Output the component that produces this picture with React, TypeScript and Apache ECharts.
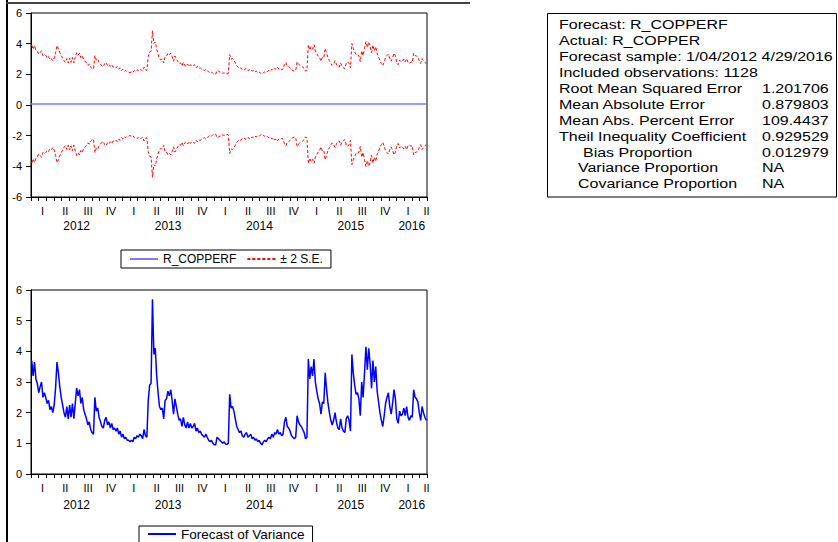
import React, { useEffect, useRef } from 'react';
import * as echarts from 'echarts';

// Sample layout: 1128 daily observations, variance read every 4th observation
const N_OBS = 1128;
const STEP = 4;
const X_START = 2012;
const X_END = 2016 + 4 / 12;
const FORECAST_MEAN = 0.06;

const VARIANCE = [
  3.7, 3.2, 3.65, 3.1, 2.95,
  2.65, 2.85, 3.0, 2.5, 2.65,
  2.5, 2.3, 2.4, 2.1, 2.2,
  2.0, 2.25, 2.8, 3.65, 3.3,
  2.85, 2.5, 2.25, 2.0, 1.85,
  2.2, 1.8, 2.25, 1.85, 2.3,
  1.8, 2.3, 2.8, 2.55, 2.75,
  2.3, 2.5, 2.1, 1.95, 1.8,
  1.6, 1.7, 1.45, 1.35, 1.3,
  2.5, 2.05, 2.15, 1.85, 1.7,
  1.55, 1.5, 1.75, 1.85, 1.6,
  1.7, 1.5, 1.65, 1.45, 1.5,
  1.4, 1.5, 1.3, 1.4, 1.2,
  1.3, 1.15, 1.2, 1.1, 1.1,
  1.05, 1.1, 1.05, 1.2, 1.15,
  1.25, 1.2, 1.3, 1.25, 1.15,
  1.45, 1.25, 1.2, 2.4, 2.9,
  2.95, 5.7, 3.9, 4.1, 3.2,
  2.65, 2.2, 2.1, 2.15, 1.8,
  2.4, 2.45, 2.7, 2.55, 2.75,
  2.4, 1.95, 2.45, 2.2, 1.95,
  1.75, 1.8, 1.55, 1.85, 1.6,
  1.5, 1.7, 1.5, 1.65, 1.5,
  1.55, 1.65, 1.4, 1.5, 1.35,
  1.4, 1.3, 1.25, 1.2, 1.3,
  1.2, 1.1, 1.05, 1.1, 1.0,
  0.95, 0.95, 1.2, 1.15, 1.1,
  1.05, 1.0, 1.05, 0.98, 0.97,
  1.0, 2.6, 2.15, 2.2, 2.05,
  1.8, 1.55, 1.45, 1.35, 1.4,
  1.25, 1.2, 1.3, 1.35, 1.2,
  1.25, 1.3, 1.15, 1.2, 1.1,
  1.15, 1.05, 1.1, 1.0, 0.95,
  1.05, 1.1, 1.05, 1.15, 1.2,
  1.15, 1.3, 1.2, 1.35, 1.3,
  1.45, 1.3, 1.35, 1.25, 1.3,
  1.7, 1.85, 1.55, 1.5, 1.4,
  1.25, 1.2, 1.15, 1.2, 1.9,
  1.7, 1.6, 1.55, 1.45, 1.35,
  1.15, 1.2, 3.75, 3.1, 3.5,
  3.2, 3.75, 3.0, 2.7, 2.45,
  2.3, 1.95, 2.35, 2.3, 3.3,
  2.75, 2.3, 2.0, 1.75, 1.6,
  1.75, 2.0, 1.7, 1.5, 1.45,
  1.8, 1.5, 1.4, 1.35, 1.8,
  1.9, 1.75, 1.4, 3.9, 3.3,
  2.9, 2.6, 2.65, 2.45, 1.9,
  3.0, 2.5, 3.3, 4.15, 3.4,
  4.1, 3.6, 2.8, 3.7, 3.0,
  3.5, 2.7, 2.35, 2.0, 1.75,
  1.55, 1.9, 2.3, 2.5, 2.65,
  2.2, 1.95, 2.3, 2.75, 2.45,
  1.8, 1.65, 2.05, 1.9, 1.95,
  2.15, 1.9, 2.2, 1.85, 1.75,
  1.9, 1.85, 2.75, 2.5, 2.45,
  2.35, 2.0, 1.75, 2.2, 2.0,
  1.85, 1.75,
];

const QUARTER_LABELS = ['I', 'II', 'III', 'IV'];
const YEARS = [2012, 2013, 2014, 2015, 2016];

const STATS_LABELS = [
  'Forecast: R_COPPERF',
  'Actual: R_COPPER',
  'Forecast sample: 1/04/2012 4/29/2016',
  'Included observations: 1128',
  'Root Mean Squared Error',
  'Mean Absolute Error',
  'Mean Abs. Percent Error',
  'Theil Inequality Coefficient',
  'Bias Proportion',
  'Variance Proportion',
  'Covariance Proportion',
];
// left inset of each row, in px
const STATS_INDENT = [0, 0, 0, 0, 0, 0, 0, 0, 24, 19, 19];
const STATS_VALUES = [
  '', '', '', '',
  '1.201706',
  '0.879803',
  '109.4437',
  '0.929529',
  '0.012979',
  'NA',
  'NA',
];

const FONT = '"Liberation Sans", Arial, Helvetica, sans-serif';

function obsX(i: number): number {
  return X_START + ((i * STEP + STEP / 2) / N_OBS) * (X_END - X_START);
}

const monthTicks: number[] = [];
for (let k = 0; k <= 52; k++) monthTicks.push(X_START + k / 12);
const quarterCenters: number[] = [];
for (let q = 0; q < 18; q++) quarterCenters.push(Math.min(X_START + (q + 0.5) / 4, X_END - 0.006));
const yearCenters = YEARS.map((y) => (y + Math.min(y + 1, X_END)) / 2);

function timeAxes(gridIndex: number, yearMargin: number) {
  const base = {
    type: 'value',
    gridIndex,
    min: X_START,
    max: X_END,
    position: 'bottom',
    splitLine: { show: false },
  };
  return [
    {
      ...base,
      axisLine: { show: true, onZero: false, lineStyle: { color: '#000', width: 1 } },
      axisTick: {
        show: true,
        inside: false,
        length: 4,
        customValues: monthTicks,
        lineStyle: { color: '#000' },
      },
      axisLabel: {
        show: true,
        customValues: quarterCenters,
        margin: 8,
        fontFamily: FONT,
        fontSize: 11,
        color: '#000',
        formatter: (v: number) => QUARTER_LABELS[Math.floor((v - X_START) * 4 + 1e-6) % 4],
      },
    },
    {
      ...base,
      axisLine: { show: false, onZero: false },
      axisTick: { show: false },
      axisLabel: {
        show: true,
        customValues: yearCenters,
        margin: yearMargin,
        fontFamily: FONT,
        fontSize: 12,
        color: '#000',
        formatter: (v: number) => String(Math.floor(v)),
      },
    },
  ];
}

function valueAxis(gridIndex: number, min: number, max: number, interval: number) {
  return {
    type: 'value',
    gridIndex,
    min,
    max,
    interval,
    splitLine: { show: false },
    axisLine: { show: true, onZero: false, lineStyle: { color: '#000' } },
    axisTick: { show: true, length: 5, lineStyle: { color: '#000' } },
    axisLabel: { margin: 9, fontFamily: FONT, fontSize: 11, color: '#000' },
  };
}

export default function App() {
  const ref = useRef<HTMLDivElement>(null);

  useEffect(() => {
    document.body.style.margin = '0';
    if (!ref.current) return;
    const chart = echarts.init(ref.current, undefined, { renderer: 'svg' });

    const variancePts = VARIANCE.map((v, i) => [obsX(i), v]);
    const upperPts = VARIANCE.map((v, i) => [obsX(i), FORECAST_MEAN + 2 * Math.sqrt(v)]);
    const lowerPts = VARIANCE.map((v, i) => [obsX(i), FORECAST_MEAN - 2 * Math.sqrt(v)]);
    const forecastPts = [
      [X_START, FORECAST_MEAN],
      [X_END, FORECAST_MEAN],
    ];

    // statistics table: slightly widened text, as in the EViews output
    const rowY = (k: number) => 25 + 15.9 * k;
    const textStyle = { fontFamily: FONT, fontSize: 12.5, fill: '#000', verticalAlign: 'middle' };
    const statTexts: any[] = [];
    STATS_LABELS.forEach((t, k) => {
      statTexts.push({
        type: 'text',
        x: 559 + STATS_INDENT[k],
        y: rowY(k),
        scaleX: 1.28,
        style: { ...textStyle, text: t },
      });
      if (STATS_VALUES[k]) {
        statTexts.push({
          type: 'text',
          x: 762,
          y: rowY(k),
          scaleX: 1.28,
          style: { ...textStyle, text: STATS_VALUES[k] },
        });
      }
    });

    const legendCommon = {
      orient: 'horizontal',
      borderColor: '#000',
      borderWidth: 1,
      borderRadius: 0,
      padding: [3, 8, 3, 8],
      itemWidth: 28,
      itemHeight: 10,
      itemGap: 10,
      selectedMode: false,
      itemStyle: { opacity: 0 },
      textStyle: { fontFamily: FONT, fontSize: 12, color: '#000' },
    };

    chart.setOption({
      animation: false,
      backgroundColor: '#fff',
      grid: [
        { left: 31, top: 13, width: 396, height: 184, show: true, borderColor: '#000', borderWidth: 1 },
        { left: 31, top: 290, width: 396, height: 184, show: true, borderColor: '#000', borderWidth: 1 },
      ],
      xAxis: [...timeAxes(0, 23), ...timeAxes(1, 25)],
      yAxis: [valueAxis(0, -6, 6, 2), valueAxis(1, 0, 6, 1)],
      legend: [
        { ...legendCommon, left: 121, top: 250, data: ['R_COPPERF', '± 2 S.E.'] },
        {
          ...legendCommon,
          left: 139,
          top: 526,
          padding: [1, 8, 4, 8],
          textStyle: { ...legendCommon.textStyle, fontSize: 13.5 },
          data: ['Forecast of Variance'],
        },
      ],
      series: [
        {
          name: 'R_COPPERF',
          type: 'line',
          xAxisIndex: 0,
          yAxisIndex: 0,
          data: forecastPts,
          symbol: 'none',
          lineStyle: { color: '#7a7aff', width: 1.5 },
          itemStyle: { color: '#7a7aff' },
        },
        {
          name: '± 2 S.E.',
          type: 'line',
          xAxisIndex: 0,
          yAxisIndex: 0,
          data: upperPts,
          symbol: 'none',
          lineStyle: { color: '#ff0000', width: 1, type: [3, 2] },
          itemStyle: { color: '#ff0000' },
        },
        {
          name: '± 2 S.E.',
          type: 'line',
          xAxisIndex: 0,
          yAxisIndex: 0,
          data: lowerPts,
          symbol: 'none',
          lineStyle: { color: '#ff0000', width: 1, type: [3, 2] },
          itemStyle: { color: '#ff0000' },
        },
        {
          name: 'Forecast of Variance',
          type: 'line',
          xAxisIndex: 2,
          yAxisIndex: 1,
          data: variancePts,
          symbol: 'none',
          lineStyle: { color: '#0000ff', width: 1.5 },
          itemStyle: { color: '#0000ff' },
        },
      ],
      graphic: [
        { type: 'line', shape: { x1: 7, y1: 0, x2: 7, y2: 542 }, style: { stroke: '#000', lineWidth: 2 } },
        { type: 'line', shape: { x1: 6, y1: 3, x2: 470, y2: 3 }, style: { stroke: '#444', lineWidth: 2 } },
        {
          type: 'rect',
          shape: { x: 547.5, y: 13.5, width: 289, height: 183.5 },
          style: { fill: 'none', stroke: '#000', lineWidth: 1 },
        },
        ...statTexts,
      ],
    });

    return () => chart.dispose();
  }, []);

  return <div ref={ref} style={{ width: 838, height: 542 }} />;
}
